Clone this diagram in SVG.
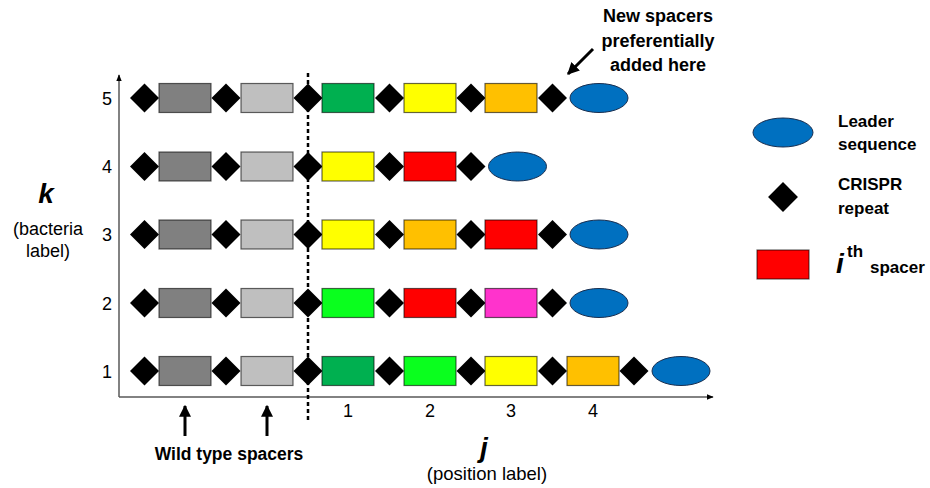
<svg xmlns="http://www.w3.org/2000/svg" xmlns:xlink="http://www.w3.org/1999/xlink" width="930" height="488" viewBox="0 0 930 488">
<style>
text{font-family:"Liberation Sans",Arial,sans-serif;fill:#000}
.num{font-size:18px;text-anchor:middle}
.b{font-weight:bold}
.bi{font-weight:bold;font-style:italic}
.sp{stroke:#000;stroke-opacity:0.6;stroke-width:1.2}
.g1{fill:#808080}.g2{fill:#bfbfbf}.dg{fill:#00b050}.bg{fill:#0aff1e}.ye{fill:#ffff00}.or{fill:#ffc000}.rd{fill:#ff0000}.mg{fill:#ff33cc}
.ld{fill:#0070c0;stroke:#1a2f50;stroke-width:1}
.ax{stroke:#595959;stroke-width:1.5;fill:none}
</style>
<defs>
<path id="dia" d="M0,-14.5 L14.5,0 L0,14.5 L-14.5,0 Z" fill="#000"/>
<rect id="box" x="0" y="-14.5" width="52" height="29"/>
<marker id="axh" viewBox="0 0 10 10" refX="9" refY="5" markerWidth="7" markerHeight="7" orient="auto" markerUnits="userSpaceOnUse"><path d="M0,1 L10,5 L0,9 Z" fill="#000"/></marker>
<marker id="ah" viewBox="0 0 10 10" refX="9" refY="5" markerWidth="12" markerHeight="12" orient="auto" markerUnits="userSpaceOnUse"><path d="M0,0 L10,5 L0,10 Z" fill="#000"/></marker>
</defs>

<g id="connectors">
<line class="ax" x1="119" y1="397" x2="119" y2="75" marker-end="url(#axh)"/>
<line class="ax" x1="119" y1="397" x2="713" y2="397" marker-end="url(#axh)"/>
<line x1="308" y1="73" x2="308" y2="423" stroke="#000" stroke-width="2.5" stroke-dasharray="4 3"/>
<line x1="185" y1="436" x2="185" y2="406" stroke="#000" stroke-width="3" marker-end="url(#ah)"/>
<line x1="267" y1="436" x2="267" y2="406" stroke="#000" stroke-width="3" marker-end="url(#ah)"/>
<line x1="593" y1="49" x2="568" y2="74" stroke="#000" stroke-width="3" marker-end="url(#ah)"/>
</g>

<g id="row5" transform="translate(0,98)">
<use href="#dia" x="144.5"/><use href="#box" x="159" class="sp g1"/>
<use href="#dia" x="226"/><use href="#box" x="241" class="sp g2"/>
<use href="#dia" x="308"/><use href="#box" x="322" class="sp dg"/>
<use href="#dia" x="389.5"/><use href="#box" x="404" class="sp ye"/>
<use href="#dia" x="471"/><use href="#box" x="485" class="sp or"/>
<use href="#dia" x="552.5"/><ellipse class="ld" cx="599" cy="0" rx="29" ry="14.5"/>
</g>
<g id="row4" transform="translate(0,166.5)">
<use href="#dia" x="144.5"/><use href="#box" x="159" class="sp g1"/>
<use href="#dia" x="226"/><use href="#box" x="241" class="sp g2"/>
<use href="#dia" x="308"/><use href="#box" x="322" class="sp ye"/>
<use href="#dia" x="389.5"/><use href="#box" x="404" class="sp rd"/>
<use href="#dia" x="471"/><ellipse class="ld" cx="517.5" cy="0" rx="29" ry="14.5"/>
</g>
<g id="row3" transform="translate(0,234.5)">
<use href="#dia" x="144.5"/><use href="#box" x="159" class="sp g1"/>
<use href="#dia" x="226"/><use href="#box" x="241" class="sp g2"/>
<use href="#dia" x="308"/><use href="#box" x="322" class="sp ye"/>
<use href="#dia" x="389.5"/><use href="#box" x="404" class="sp or"/>
<use href="#dia" x="471"/><use href="#box" x="485" class="sp rd"/>
<use href="#dia" x="552.5"/><ellipse class="ld" cx="599" cy="0" rx="29" ry="14.5"/>
</g>
<g id="row2" transform="translate(0,303)">
<use href="#dia" x="144.5"/><use href="#box" x="159" class="sp g1"/>
<use href="#dia" x="226"/><use href="#box" x="241" class="sp g2"/>
<use href="#dia" x="308"/><use href="#box" x="322" class="sp bg"/>
<use href="#dia" x="389.5"/><use href="#box" x="404" class="sp rd"/>
<use href="#dia" x="471"/><use href="#box" x="485" class="sp mg"/>
<use href="#dia" x="552.5"/><ellipse class="ld" cx="599" cy="0" rx="29" ry="14.5"/>
</g>
<g id="row1" transform="translate(0,371)">
<use href="#dia" x="144.5"/><use href="#box" x="159" class="sp g1"/>
<use href="#dia" x="226"/><use href="#box" x="241" class="sp g2"/>
<use href="#dia" x="308"/><use href="#box" x="322" class="sp dg"/>
<use href="#dia" x="389.5"/><use href="#box" x="404" class="sp bg"/>
<use href="#dia" x="471"/><use href="#box" x="485" class="sp ye"/>
<use href="#dia" x="552.5"/><use href="#box" x="567" class="sp or"/>
<use href="#dia" x="634"/><ellipse class="ld" cx="681" cy="0" rx="29" ry="14.5"/>
</g>

<g id="k-labels">
<text class="num" x="107" y="104.5">5</text>
<text class="num" x="107" y="173">4</text>
<text class="num" x="107" y="241">3</text>
<text class="num" x="107" y="309.5">2</text>
<text class="num" x="107" y="377.5">1</text>
</g>
<g id="j-labels">
<text class="num" x="348" y="417">1</text>
<text class="num" x="430" y="417">2</text>
<text class="num" x="511" y="417">3</text>
<text class="num" x="593" y="417">4</text>
</g>
<g id="k-axis-title">
<text class="bi" x="46" y="203" font-size="28" text-anchor="middle">k</text>
<text x="48" y="235" font-size="18" text-anchor="middle">(bacteria</text>
<text x="48" y="257" font-size="18" text-anchor="middle">label)</text>
</g>
<g id="j-axis-title">
<text class="bi" x="484" y="457" font-size="28" text-anchor="middle">j</text>
<text x="487" y="480" font-size="18.5" text-anchor="middle">(position label)</text>
</g>
<g id="wild-type-label">
<text class="b" x="229" y="460" font-size="17.5" text-anchor="middle">Wild type spacers</text>
</g>
<g id="new-spacers-label">
<text class="b" x="658" y="22" font-size="18" text-anchor="middle">New spacers</text>
<text class="b" x="658" y="46.5" font-size="18" text-anchor="middle">preferentially</text>
<text class="b" x="658" y="71" font-size="18" text-anchor="middle">added here</text>
</g>
<g id="legend-leader">
<ellipse class="ld" cx="783" cy="132.5" rx="30" ry="14.5"/>
<text class="b" x="838" y="127" font-size="17">Leader</text>
<text class="b" x="838" y="150" font-size="17">sequence</text>
</g>
<g id="legend-repeat">
<use href="#dia" x="783" y="197" transform="translate(783,197) scale(1.03) translate(-783,-197)"/>
<text class="b" x="838" y="190" font-size="17">CRISPR</text>
<text class="b" x="838" y="214" font-size="17">repeat</text>
</g>
<g id="legend-spacer">
<rect x="757" y="250" width="52" height="29" class="sp rd"/>
<text class="bi" x="836" y="273" font-size="28">i</text>
<text class="b" x="847" y="257" font-size="17">th</text>
<text class="b" x="870" y="273" font-size="17">spacer</text>
</g>
</svg>
